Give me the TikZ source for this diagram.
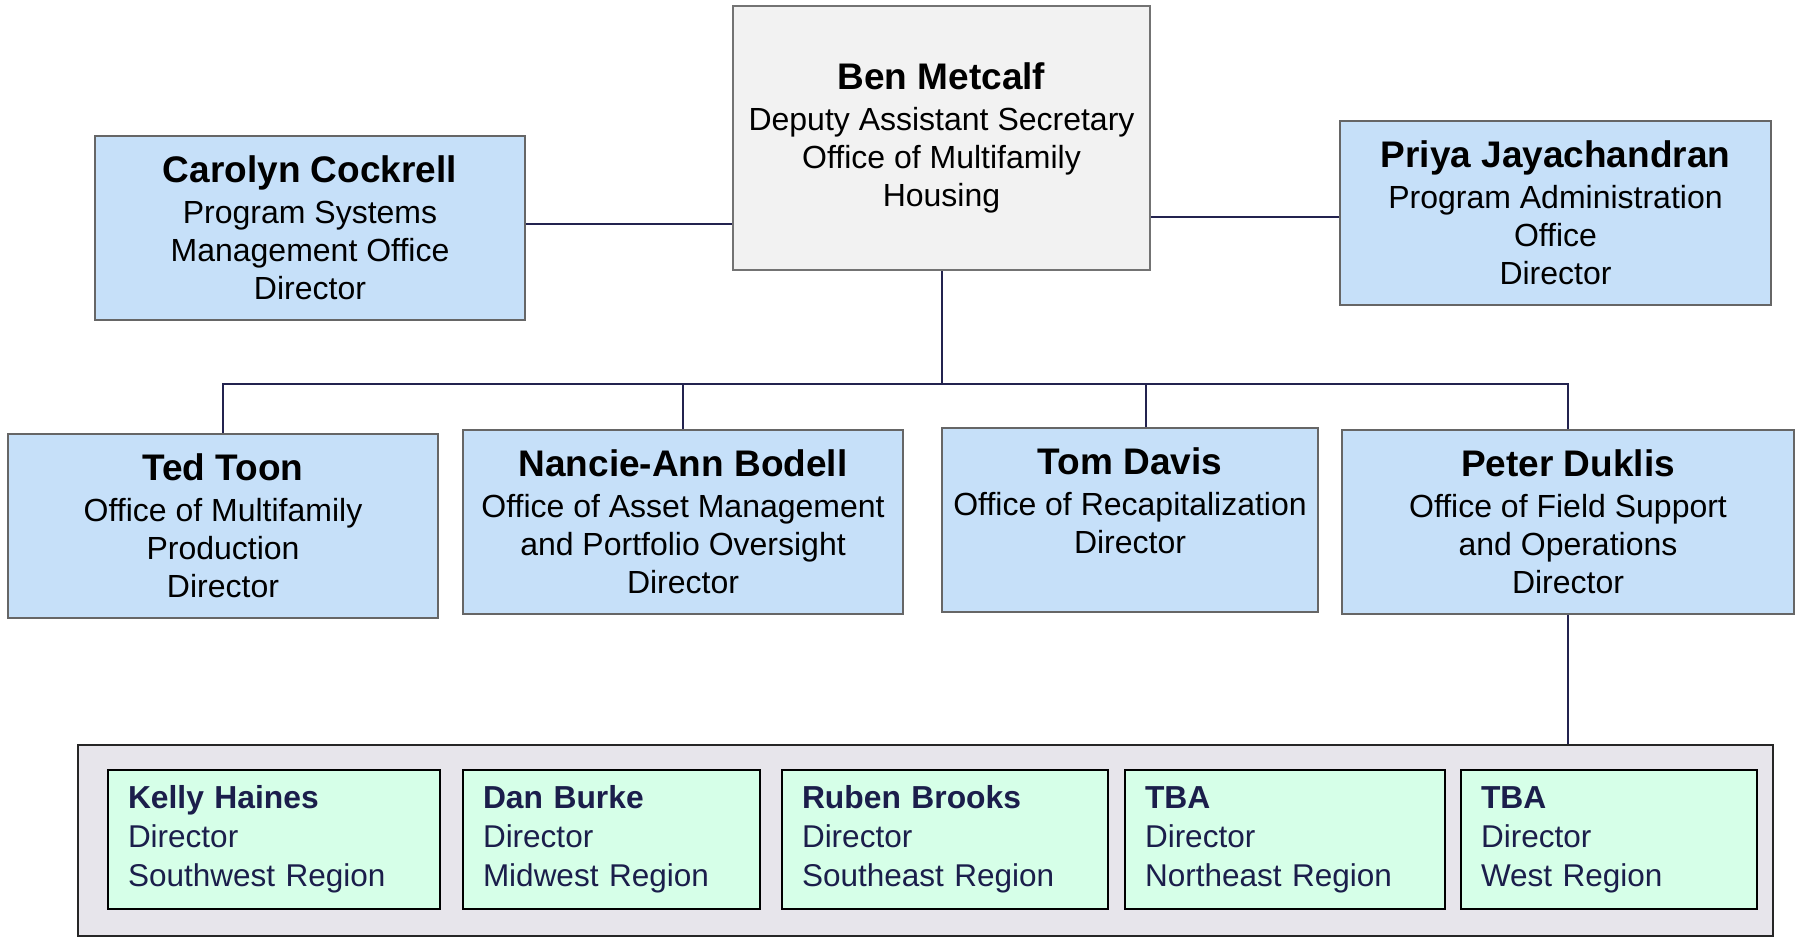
\documentclass[tikz,border=0pt]{standalone}
\usepackage{fontspec}
\setmainfont{Liberation Sans}
\definecolor{linkline}{HTML}{23234F}
\definecolor{officefill}{HTML}{C6E0F9}
\definecolor{headfill}{HTML}{F2F2F2}
\definecolor{fieldfill}{HTML}{E7E5EB}
\definecolor{regionfill}{HTML}{D6FFE8}
\definecolor{regiontext}{HTML}{1B1E4B}
\newcommand{\pname}[1]{{\fontsize{18.5}{20}\selectfont\bfseries #1}\\[1.5pt]}
\newcommand{\rname}[1]{{\fontsize{15.9}{19.5}\selectfont\bfseries #1}\\}

\begin{document}
\begin{tikzpicture}[x=0.5pt, y=-0.5pt,
    head/.style = {draw=black!55, line width=1pt, fill=headfill, minimum width=208.5pt, minimum height=132pt, align=center, font=\fontsize{16}{19}\selectfont},
    office/.style = {draw=black!60, line width=1pt, fill=officefill, minimum width=#1, minimum height=92pt, align=center, font=\fontsize{16}{19}\selectfont},
    field/.style = {draw=black!85, line width=1pt, fill=fieldfill, minimum width=847.5pt, minimum height=95.5pt},
    regbox/.style = {draw=black, line width=1pt, fill=regionfill, text=regiontext, text width=#1, inner xsep=10pt, inner ysep=0pt, minimum height=69.5pt, align=left, font=\fontsize{15.75}{19.5}\selectfont},
    link/.style = {draw=linkline, line width=1pt}]
		\useasboundingbox (0,0) rectangle (1797,937);
		\node[head] (ben) at (941.5,138) {\pname{Ben Metcalf}Deputy Assistant Secretary\\Office of Multifamily\\Housing};
		\node[office=215pt] (carolyn) at (310,227.5) {\pname{Carolyn Cockrell}Program Systems\\Management Office\\Director};
		\node[office=215.5pt] (priya) at (1555.5,212.5) {\pname{Priya Jayachandran}Program Administration\\Office\\Director};
		\node[office=215pt] (ted) at (223,525.5) {\pname{Ted Toon}Office of Multifamily\\Production\\Director};
		\node[office=220pt] (nancie) at (683,521.5) {\pname{Nancie-Ann Bodell}Office of Asset Management\\and Portfolio Oversight\\Director};
		\node[office=188pt] (tom) at (1130,520) {\pname{Tom Davis}Office of Recapitalization\\Director\\\mbox{}};
		\node[office=226pt] (peter) at (1568,521.5) {\pname{Peter Duklis}Office of Field Support\\and Operations\\Director};
		\node[field] (field) at (925.5,840.5) {};
		\node[regbox=146pt] (kelly) at (274,839.5) {\rname{Kelly Haines}Director\\Southwest Region};
		\node[regbox=128.5pt] (dan) at (611.5,839.5) {\rname{Dan Burke}Director\\Midwest Region};
		\node[regbox=143pt] (ruben) at (945,839.5) {\rname{Ruben Brooks}Director\\Southeast Region};
		\node[regbox=140pt] (northeast) at (1285,839.5) {\rname{TBA}Director\\Northeast Region};
		\node[regbox=128pt] (west) at (1609,839.5) {\rname{TBA}Director\\West Region};
		\coordinate (bus) at (941.5,384);
		\draw[link] ([yshift=1.75pt]carolyn.east) -- ([yshift=1.75pt]carolyn.east -| ben.west);
		\draw[link] ([yshift=-2.25pt]priya.west) -- ([yshift=-2.25pt]priya.west -| ben.east);
		\draw[link] (ben.south) -- (bus);
		\draw[link] (ted.north) -- (ted.north |- bus) -- (peter.north |- bus) -- (peter.north);
		\draw[link] (nancie.north) -- (nancie.north |- bus);
		\draw[link] ([xshift=8pt]tom.north) -- ([xshift=8pt]tom.north |- bus);
		\draw[link] (peter.south) -- (peter.south |- field.north);
	\end{tikzpicture}
\end{document}
